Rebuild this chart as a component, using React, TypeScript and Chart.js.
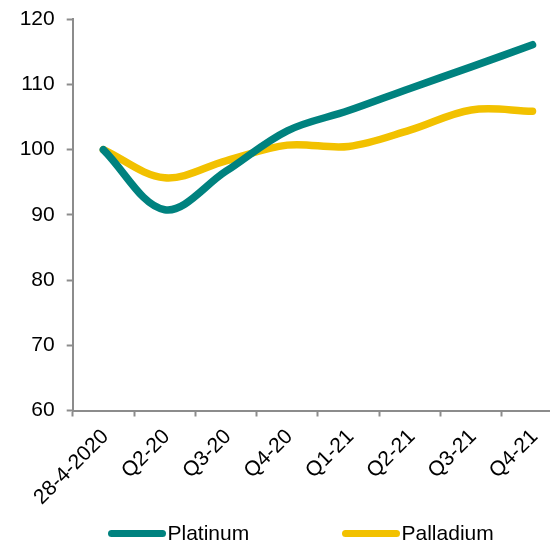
import React, { useEffect, useRef } from "react";
import { Chart, registerables } from "chart.js";

Chart.register(...registerables);

const categories = ["28-4-2020", "Q2-20", "Q3-20", "Q4-20", "Q1-21", "Q2-21", "Q3-21", "Q4-21"];
const platinum = [100, 90.8, 96.7, 102.9, 106.0, 109.4, 112.7, 116.1];
const palladium = [100, 95.7, 98.3, 100.7, 100.5, 103.0, 106.1, 105.9];
const seriesNames = ["Platinum", "Palladium"];
const seriesColors = ["#00827F", "#F2C100"];
const yTicks = [60, 70, 80, 90, 100, 110, 120];

const FONT = '"Liberation Sans", Arial, sans-serif';

export default function App() {
  const ref = useRef<HTMLCanvasElement | null>(null);

  useEffect(() => {
    if (!ref.current) return;
    const axisColor = "#8C8C8C";
    const mkDataset = (i: number, data: number[]) => ({
      label: seriesNames[i],
      data,
      borderColor: seriesColors[i],
      backgroundColor: seriesColors[i],
      borderWidth: 7.5,
      pointRadius: 0,
      tension: 0.35,
      borderCapStyle: "round" as const,
      borderJoinStyle: "round" as const,
    });
    const chart = new Chart(ref.current, {
      type: "line",
      data: {
        labels: categories,
        datasets: [mkDataset(0, platinum), mkDataset(1, palladium)],
      },
      options: {
        animation: false,
        responsive: false,
        devicePixelRatio: 1,
        layout: { padding: { left: 0, top: 19.3, right: 36.8, bottom: 0 } },
        plugins: { legend: { display: false }, tooltip: { enabled: false } },
        scales: {
          x: {
            type: "category",
            offset: true,
            grid: {
              offset: true,
              drawOnChartArea: false,
              drawTicks: true,
              tickLength: 6,
              tickColor: axisColor,
              tickWidth: 2,
            },
            border: { display: true, color: axisColor, width: 2 },
            ticks: {
              autoSkip: false,
              minRotation: 45,
              maxRotation: 45,
              padding: 8,
              labelOffset: 2,
              color: "#000",
              font: { family: FONT, size: 21 },
            },
            afterFit: (scale: any) => {
              scale.height = 544 - 410.5;
            },
          },
          y: {
            min: 60,
            max: 120,
            afterBuildTicks: (scale: any) => {
              scale.ticks = yTicks.map((v) => ({ value: v }));
            },
            grid: {
              drawOnChartArea: false,
              drawTicks: true,
              tickLength: 6,
              tickColor: axisColor,
              tickWidth: 2,
            },
            border: { display: true, color: axisColor, width: 2 },
            ticks: {
              padding: 12,
              color: "#000",
              font: { family: FONT, size: 21 },
            },
            afterFit: (scale: any) => {
              scale.width = 72.7;
              scale.paddingTop = 10;
              scale.paddingBottom = 10;
            },
          },
        },
      },
    });
    return () => chart.destroy();
  }, []);

  const legendBars = [108, 342];

  return (
    <div
      style={{
        position: "fixed",
        left: 0,
        top: 0,
        width: 550,
        height: 544,
        overflow: "hidden",
        background: "#fff",
      }}
    >
      <canvas ref={ref} width={600} height={544} style={{ display: "block", width: 600, height: 544 }} />
      {seriesNames.map((name, i) => (
        <div
          key={name}
          style={{
            position: "absolute",
            left: legendBars[i],
            top: 533.3 - 12,
            height: 24,
            display: "flex",
            alignItems: "center",
            fontFamily: FONT,
            fontSize: 21,
            color: "#000",
            whiteSpace: "nowrap",
          }}
        >
          <span
            style={{
              display: "inline-block",
              width: 58,
              height: 7.5,
              borderRadius: 3.75,
              background: seriesColors[i],
              marginRight: 1.5,
            }}
          />
          <span>{name}</span>
        </div>
      ))}
    </div>
  );
}
